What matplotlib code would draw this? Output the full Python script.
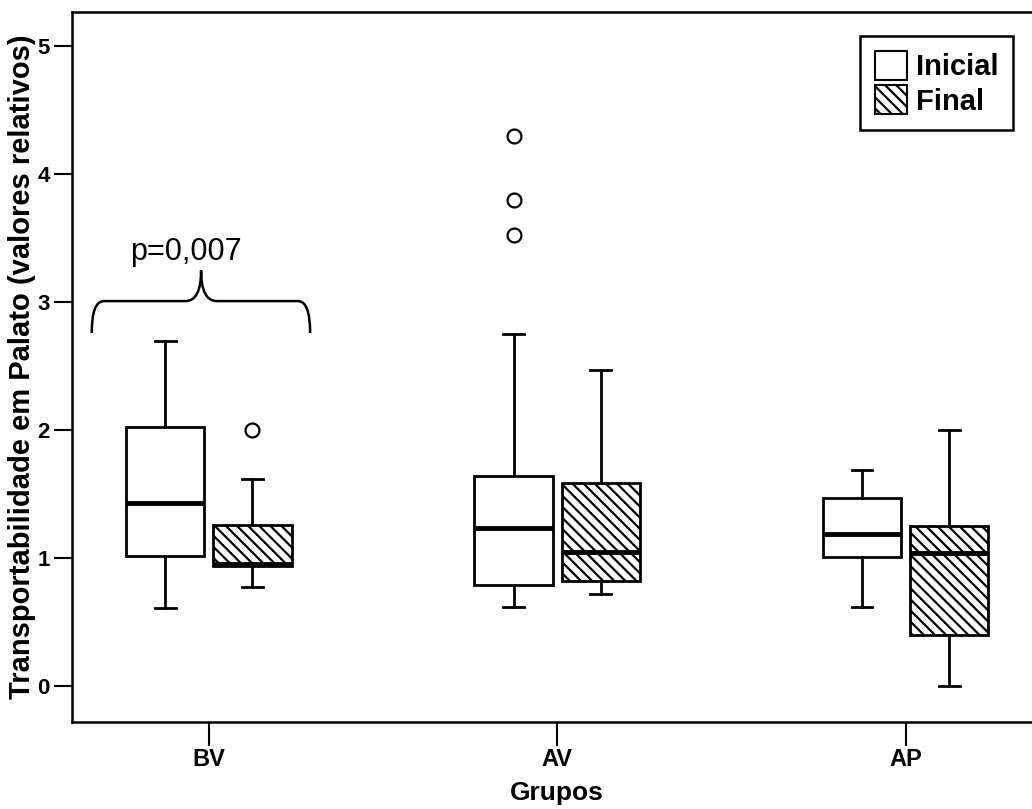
import matplotlib
matplotlib.use('Agg')
import matplotlib.pyplot as plt
from matplotlib.patches import Patch, PathPatch
from matplotlib.path import Path

plt.rcParams['font.family'] = ['Liberation Sans', 'DejaVu Sans']
plt.rcParams['hatch.linewidth'] = 1.6

groups = ['BV', 'AV', 'AP']

# Inicial
ini_whislo = [0.61, 0.62, 0.62]
ini_q1 = [1.02, 0.79, 1.01]
ini_med = [1.43, 1.24, 1.19]
ini_q3 = [2.03, 1.64, 1.47]
ini_whishi = [2.70, 2.75, 1.69]
ini_fliers = [[], [4.30, 3.80, 3.53], []]

# Final
fin_whislo = [0.78, 0.72, 0.0]
fin_q1 = [0.94, 0.82, 0.40]
fin_med = [0.96, 1.05, 1.04]
fin_q3 = [1.26, 1.59, 1.25]
fin_whishi = [1.62, 2.47, 2.00]
fin_fliers = [[2.00], [], []]

p_text = 'p=0,007'


def make_stats(lo, q1, med, q3, hi, fl):
    return [dict(whislo=a, q1=b, med=c, q3=d, whishi=e, fliers=f)
            for a, b, c, d, e, f in zip(lo, q1, med, q3, hi, fl)]


fig = plt.figure(figsize=(10.32, 8.09), dpi=100)
ax = fig.add_axes([0.0698, 0.1075, 0.94, 0.878])

offset = 0.125
width = 0.225
hatch = '\\\\\\'
common = dict(
    widths=width, patch_artist=True, showfliers=True, capwidths=0.06,
    medianprops=dict(color='black', linewidth=3.5),
    whiskerprops=dict(color='black', linewidth=2),
    capprops=dict(color='black', linewidth=2),
    flierprops=dict(marker='o', markerfacecolor='white', markeredgecolor='black',
                    markersize=10, markeredgewidth=1.6),
)

x = list(range(len(groups)))
ax.bxp(make_stats(ini_whislo, ini_q1, ini_med, ini_q3, ini_whishi, ini_fliers),
       positions=[i - offset for i in x],
       boxprops=dict(facecolor='white', edgecolor='black', linewidth=2), **common)
ax.bxp(make_stats(fin_whislo, fin_q1, fin_med, fin_q3, fin_whishi, fin_fliers),
       positions=[i + offset for i in x],
       boxprops=dict(facecolor='white', edgecolor='black', linewidth=2, hatch=hatch),
       **common)

ax.set_xlim(-0.3925, 2.392)
ax.set_ylim(-0.278, 5.27)
ax.set_xticks(x)
ax.set_xticklabels(groups, fontsize=17, fontweight='bold')
ax.set_yticks([0, 1, 2, 3, 4, 5])
ax.set_yticklabels(['0', '1', '2', '3', '4', '5'], fontsize=16, fontweight='bold')
ax.tick_params(axis='y', direction='out', length=13, width=1.5, pad=3)
ax.tick_params(axis='x', direction='out', length=17, width=1.5, pad=2)
for s in ax.spines.values():
    s.set_linewidth(1.8)
ax.spines['right'].set_visible(False)

ax.set_ylabel('Transportabilidade em Palato (valores relativos)', fontsize=21,
              fontweight='bold')
ax.yaxis.set_label_coords(-0.037, 0.5)
ax.set_xlabel('Grupos', fontsize=19, fontweight='bold')
ax.xaxis.set_label_coords(0.5, -0.083)

# brace over BV
bx0, bx1, bxc = -0.336, 0.291, -0.022
by0, by1, bytop = 2.76, 3.01, 3.25
rx = 0.035
verts = [(bx0, by0), (bx0, by1), (bx0 + rx, by1),
         (bxc - 0.045, by1),
         (bxc, by1), (bxc, bytop),
         (bxc, by1), (bxc + 0.045, by1),
         (bx1 - rx, by1),
         (bx1, by1), (bx1, by0)]
codes = [Path.MOVETO, Path.CURVE3, Path.CURVE3,
         Path.LINETO,
         Path.CURVE3, Path.CURVE3,
         Path.CURVE3, Path.CURVE3,
         Path.LINETO,
         Path.CURVE3, Path.CURVE3]
ax.add_patch(PathPatch(Path(verts, codes), facecolor='none', edgecolor='black',
                       linewidth=1.8))
ax.text(-0.066, 3.33, p_text, fontsize=22, ha='center', va='baseline')

handles = [Patch(facecolor='white', edgecolor='black', linewidth=1.5, label='Inicial'),
           Patch(facecolor='white', edgecolor='black', linewidth=1.5, hatch=hatch,
                 label='Final')]
leg = ax.legend(handles=handles, loc='upper right',
                bbox_to_anchor=(1013 / 1032, 1 - 36 / 809),
                bbox_transform=fig.transFigure,
                prop=dict(size=21, weight='bold'), handlelength=1.1, handleheight=1.15,
                handletextpad=0.3, labelspacing=0.15, borderpad=0.5, borderaxespad=0,
                fancybox=False, edgecolor='black', framealpha=1)
leg.get_frame().set_linewidth(1.8)

fig.savefig('out.png', dpi=100)
